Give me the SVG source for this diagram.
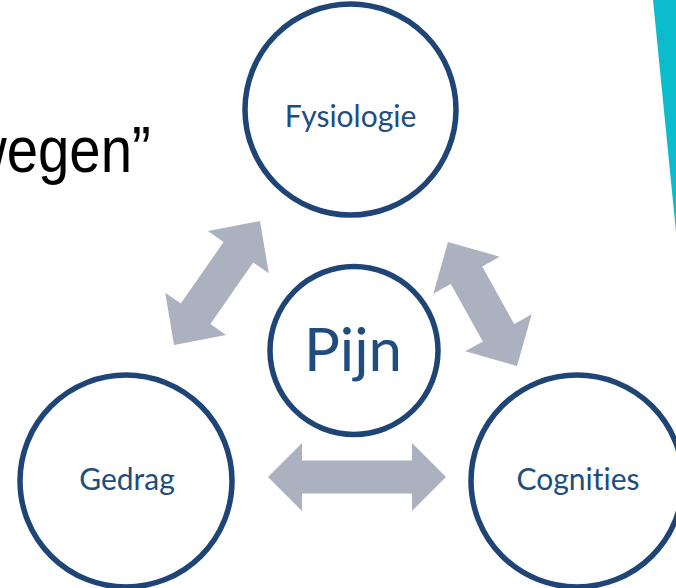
<svg xmlns="http://www.w3.org/2000/svg" width="676" height="588" viewBox="0 0 676 588">
  <style>
    .node circle { fill: #ffffff; stroke: #1f4476; stroke-width: 5.5; }
    .node text { font-family: Lato, "Open Sans", sans-serif; fill: #214c7e; text-anchor: middle; font-variant-ligatures: none; font-feature-settings: "liga" 0, "clig" 0; }
    .label { font-size: 30px; }
    .core { font-size: 60px; }
    .link { fill: #abb1bf; }
  </style>
  <rect width="676" height="588" fill="#ffffff"/>

  <!-- teal accent at the right edge -->
  <polygon points="653,0 676,0 676,232" fill="#0bbccc"/>

  <!-- heading fragment, partly off the left edge -->
  <text x="-38.6" y="172" transform="scale(0.88 1)" font-family="'Liberation Sans', Arial, sans-serif" font-size="64" fill="#000000">wegen”</text>

  <!-- double-headed arrows between the outer nodes -->
  <g id="connectors">
    <polygon class="link" points="260,221 268.8,273.3 253.2,262.5 210.4,324.1 226,334.9 174,345 165.2,292.7 180.8,303.6 223.6,242 208,231.1"/>
    <polygon class="link" points="448,242 499.7,256.7 482.2,266.5 514.2,324.1 531.7,314.3 517,366 465.3,351.3 482.8,341.6 450.8,284 433.3,293.7"/>
    <polygon class="link" points="268,477 302,443 302,460.5 412,460.5 412,443 446,477 412,511 412,493.5 302,493.5 302,511"/>
  </g>

  <g id="fysiologie" class="node">
    <circle cx="350.5" cy="109.5" r="105.5"/>
    <text class="label" x="350.5" y="127">Fysiologie</text>
  </g>
  <g id="pijn" class="node">
    <circle cx="354" cy="350.5" r="84"/>
    <text class="core" x="353" y="371">Pijn</text>
  </g>
  <g id="gedrag" class="node">
    <circle cx="126" cy="481" r="106"/>
    <text class="label" x="127" y="490">Gedrag</text>
  </g>
  <g id="cognities" class="node">
    <circle cx="577" cy="481" r="106"/>
    <text class="label" x="578" y="490">Cognities</text>
  </g>
</svg>
